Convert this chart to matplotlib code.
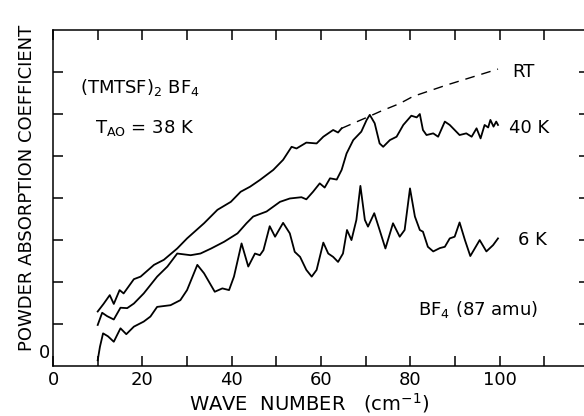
"""
far-infrared absorption of (TMTSF)2 BF4 powder
"""
import numpy as np
import matplotlib
matplotlib.use('Agg')
import matplotlib.pyplot as plt

# room temperature, measured part (solid)
rt_x = [10, 11.3, 12.7, 13.6, 14.9, 15.8, 18.1, 19.6, 22.6, 24.8, 27.8, 30.0, 33.8, 36.8,
        39.8, 42.0, 44.1, 46.3, 49.3, 51.5, 53.4, 54.5, 56.7, 59.0, 60.5, 62.7, 63.8, 64.6]
rt_y = [1.29, 1.47, 1.68, 1.47, 1.80, 1.72, 2.06, 2.12, 2.40, 2.52, 2.79, 3.03, 3.39, 3.71,
        3.90, 4.14, 4.26, 4.42, 4.66, 4.90, 5.21, 5.17, 5.31, 5.29, 5.45, 5.61, 5.55, 5.65]
# room temperature, extrapolated part (dashed)
rt_ext_x = [64.6, 70.9, 73.2, 77.6, 80.6, 88.1, 99.6]
rt_ext_y = [5.65, 5.94, 6.05, 6.24, 6.41, 6.68, 7.06]

k40_x = [10, 11, 12.1, 13.6, 15.1, 16.6, 18.1, 20.3, 23.3, 25.6, 27.8, 30.8, 33.0, 35.4,
         38.3, 41.3, 43.3, 44.8, 47.8, 50.8, 53.0, 55.6, 56.7, 58.2, 59.7, 60.8, 62.0, 63.5,
         64.6, 65.7, 67.2, 69.0, 70.2, 70.9, 72.0, 73.1, 73.9, 75.4, 76.9, 78.4, 80.2, 81.4,
         82.1, 82.8, 83.6, 85.1, 86.2, 87.7, 88.8, 91.0, 92.5, 93.7, 94.8, 95.7, 96.6, 97.4,
         97.9, 98.6, 99.2, 99.6]
k40_y = [0.97, 1.26, 1.18, 1.10, 1.38, 1.37, 1.48, 1.72, 2.12, 2.36, 2.67, 2.63, 2.67, 2.79,
         2.95, 3.15, 3.39, 3.55, 3.67, 3.90, 3.98, 4.01, 3.96, 4.14, 4.34, 4.24, 4.46, 4.43,
         4.66, 5.05, 5.37, 5.57, 5.85, 5.97, 5.77, 5.29, 5.21, 5.37, 5.45, 5.73, 5.95, 5.91,
         5.99, 5.61, 5.49, 5.53, 5.45, 5.81, 5.73, 5.49, 5.53, 5.45, 5.65, 5.41, 5.73, 5.67,
         5.85, 5.69, 5.81, 5.73]

k6_x = [10, 10.5, 11.2, 12.3, 13.6, 15.1, 16.4, 18.1, 20.3, 21.8, 23.3, 26.3, 28.5, 30.0,
        32.3, 33.8, 36.2, 37.9, 39.4, 40.5, 42.2, 43.7, 45.2, 46.3, 47.1, 48.5, 49.7, 51.5,
        53.0, 54.1, 55.3, 56.7, 57.9, 59.0, 60.5, 61.6, 62.7, 63.8, 64.9, 65.8, 66.8, 67.9,
        68.8, 69.8, 70.5, 71.9, 73.1, 74.4, 76.1, 77.6, 78.7, 79.9, 81.0, 82.1, 82.8, 83.9,
        85.1, 86.6, 87.7, 88.8, 89.9, 91.0, 92.2, 93.4, 95.5, 97.0, 98.5, 99.6]
k6_y = [0.13, 0.45, 0.77, 0.70, 0.57, 0.89, 0.75, 0.93, 1.05, 1.17, 1.40, 1.44, 1.56, 1.80,
        2.40, 2.20, 1.76, 1.84, 1.80, 2.12, 2.91, 2.36, 2.67, 2.63, 2.75, 3.32, 3.07, 3.40,
        3.15, 2.71, 2.59, 2.28, 2.12, 2.28, 2.93, 2.67, 2.59, 2.47, 2.67, 3.23, 2.99, 3.47,
        4.28, 3.47, 3.31, 3.63, 3.23, 2.79, 3.39, 3.07, 3.23, 4.22, 3.55, 3.23, 3.19, 2.83,
        2.72, 2.80, 2.83, 3.03, 3.07, 3.41, 2.99, 2.61, 2.99, 2.72, 2.87, 3.03]

xtick_labels = ['0', '20', '40', '60', '80', '100']
xtick_vals = [0, 20, 40, 60, 80, 100]

fig = plt.figure(figsize=(5.84, 4.16), dpi=100)
ax = fig.add_axes([0.0908, 0.1209, 0.918, 0.808])

lw = 1.3
ax.plot(rt_x, rt_y, color='black', lw=lw)
ax.plot(rt_ext_x, rt_ext_y, color='black', lw=1.0, linestyle=(0, (7, 5)))
ax.plot(k40_x, k40_y, color='black', lw=lw)
ax.plot(k6_x, k6_y, color='black', lw=lw)

ax.set_xlim(0, 120)
ax.set_ylim(0, 8)

ax.set_xticks(xtick_vals)
ax.set_xticklabels(xtick_labels)
ax.set_xticks(np.arange(10, 120, 20), minor=True)
ax.set_yticks(np.arange(1, 8))
ax.set_yticklabels([])
ax.tick_params(which='both', direction='in', length=7.2, width=1.1,
               top=True, right=True, labelsize=13, pad=4)
for s in ax.spines.values():
    s.set_linewidth(1.1)

# lone "0" on the y axis, sitting a little above the origin
ax.text(-0.6, 0.3, '0', fontsize=13, ha='right', va='center', clip_on=False)

fs = 13
ax.text(6.0, 6.49, r'(TMTSF)$_2$ BF$_4$', fontsize=fs, va='baseline')
ax.text(9.4, 5.54, r'T$_{\mathrm{AO}}$ = 38 K', fontsize=fs, va='baseline')
ax.text(102.9, 6.87, 'RT', fontsize=fs, va='baseline')
ax.text(102.0, 5.54, '40 K', fontsize=fs, va='baseline')
ax.text(104.0, 2.87, '6 K', fontsize=fs, va='baseline')
ax.text(81.7, 1.21, r'BF$_4$ (87 amu)', fontsize=fs, va='baseline')

fig.text(27 / 584, 1 - 188 / 416, 'POWDER ABSORPTION COEFFICIENT',
         rotation=90, ha='center', va='center', fontsize=13)
fig.text(309 / 584, 1 - 403 / 416, r'WAVE  NUMBER   (cm$^{-1}$)',
         ha='center', va='center', fontsize=14)

fig.savefig('out.png', dpi=100)
